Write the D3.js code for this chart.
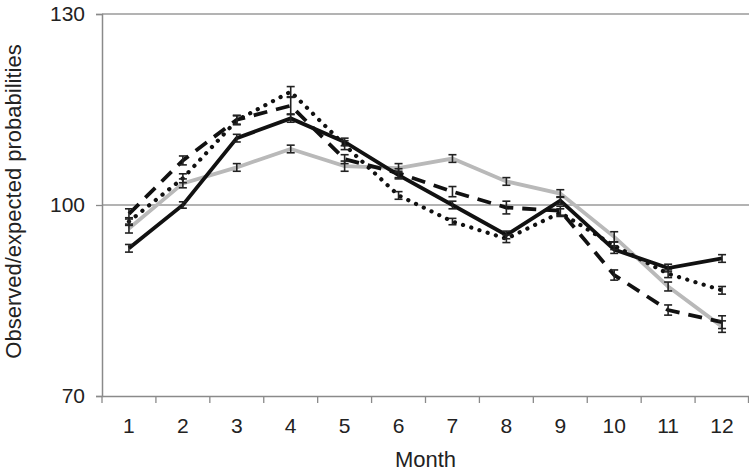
<!DOCTYPE html>
<html>
<head>
<meta charset="utf-8">
<script src="https://cdn.jsdelivr.net/npm/d3@7/dist/d3.min.js"></script>
<style>
  html, body { margin: 0; padding: 0; background: #fff; }
  svg { display: block; font-family: "Liberation Sans", Arial, sans-serif; }
</style>
</head>
<body>
<svg id="chart" width="749" height="473"></svg>
<script>
const months = ["1","2","3","4","5","6","7","8","9","10","11","12"];
const yTicks = [70, 100, 130];

const solidValues  = [93.2, 100.0, 110.5, 113.6, 109.9, 104.7, 100.0, 95.3, 100.7, 93.0, 90.1, 91.6];
const solidErr     = [0.6, 0.5, 0.6, 0.6, 0.6, 0.6, 0.6, 0.6, 0.6, 0.6, 0.6, 0.6];
const greyValues   = [96.3, 103.4, 105.9, 108.8, 106.1, 105.8, 107.3, 103.7, 101.8, 95.0, 87.2, 80.9];
const greyErr      = [0.7, 0.7, 0.6, 0.6, 0.8, 0.7, 0.6, 0.6, 0.6, 0.8, 0.7, 0.9];
const dashedValues = [98.6, 107.0, 113.4, 115.6, 107.2, 105.0, 102.1, 99.6, 99.1, 89.0, 83.5, 81.6];
const dashedErr    = [0.8, 0.7, 0.7, 1.3, 0.7, 0.7, 0.8, 1.0, 0.7, 0.8, 0.8, 1.0];
const dottedValues = [97.4, 104.2, 113.3, 117.8, 109.4, 101.5, 97.4, 94.7, 98.8, 93.6, 89.2, 86.6];
const dottedErr    = [0.6, 0.7, 0.7, 0.8, 0.7, 0.6, 0.5, 0.6, 0.6, 0.6, 0.6, 0.6];

const xTitle = "Month";
const yTitle = "Observed/expected probabilities";

const svg = d3.select("#chart");
const mLeft = 102, mRight = 749, mTop = 14, mBottom = 396;

const x = d3.scaleBand().domain(months).range([mLeft, mRight]);
const y = d3.scaleLinear().domain([70, 130]).range([mBottom, mTop]);
const cx = m => x(m) + x.bandwidth() / 2;

// gridlines
svg.append("g").selectAll("line").data(yTicks.filter(t => t !== 70)).join("line")
  .attr("x1", mLeft).attr("x2", mRight)
  .attr("y1", d => y(d)).attr("y2", d => y(d))
  .attr("stroke", "#9a9a9a").attr("stroke-width", 1.3);

// y axis
const yAxis = svg.append("g").attr("transform", `translate(${mLeft},0)`)
  .call(d3.axisLeft(y).tickValues(yTicks).tickSize(6).tickPadding(11).tickFormat(d3.format("d")));
yAxis.select(".domain").attr("stroke", "#8a8a8a").attr("stroke-width", 1.5);
yAxis.selectAll(".tick line").attr("stroke", "#8a8a8a").attr("stroke-width", 1.3);
yAxis.selectAll("text").attr("font-size", 21).attr("fill", "#222")
  .attr("font-family", "'Liberation Sans', Arial, sans-serif");

// x axis
const xAxis = svg.append("g").attr("transform", `translate(0,${mBottom})`)
  .call(d3.axisBottom(x).tickSize(0).tickPadding(22));
xAxis.select(".domain").attr("stroke", "#8a8a8a").attr("stroke-width", 1.5);
xAxis.selectAll("text").attr("font-size", 21).attr("fill", "#222")
  .attr("font-family", "'Liberation Sans', Arial, sans-serif");
// tick marks at band boundaries
const bounds = months.map(m => x(m)).concat([mRight - 0.5]);
svg.append("g").selectAll("line").data(bounds).join("line")
  .attr("x1", d => d).attr("x2", d => d)
  .attr("y1", mBottom).attr("y2", mBottom + 7)
  .attr("stroke", "#8a8a8a").attr("stroke-width", 1.3);

// titles
svg.append("text").attr("x", (mLeft + mRight) / 2).attr("y", 467)
  .attr("text-anchor", "middle").attr("font-size", 22).attr("fill", "#222").text(xTitle);
svg.append("text").attr("transform", `translate(20.5,201.5) rotate(-90)`)
  .attr("text-anchor", "middle").attr("font-size", 22).attr("fill", "#222").text(yTitle);

const series = [
  { values: greyValues, err: greyErr, stroke: "#b9b9b9", dash: null, cap: "butt" },
  { values: dottedValues, err: dottedErr, stroke: "#111", dash: "0.1,8.5", cap: "round" },
  { values: dashedValues, err: dashedErr, stroke: "#111", dash: "14,9", cap: "butt" },
  { values: solidValues, err: solidErr, stroke: "#111", dash: null, cap: "butt" }
];

const line = d3.line().x((d, i) => cx(months[i])).y(d => y(d));

series.forEach(s => {
  svg.append("path").datum(s.values)
    .attr("d", line)
    .attr("fill", "none")
    .attr("stroke", s.stroke)
    .attr("stroke-width", s.cap === "round" ? 4.2 : 3.8)
    .attr("stroke-linejoin", "miter")
    .attr("stroke-linecap", s.cap)
    .attr("stroke-dasharray", s.dash);
});

// error bars
series.forEach(s => {
  const g = svg.append("g").attr("stroke", "#222").attr("stroke-width", 1.6);
  s.values.forEach((v, i) => {
    const px = cx(months[i]);
    const lo = y(v - s.err[i]), hi = y(v + s.err[i]);
    g.append("line").attr("x1", px).attr("x2", px).attr("y1", lo).attr("y2", hi);
    g.append("line").attr("x1", px - 4).attr("x2", px + 4).attr("y1", lo).attr("y2", lo);
    g.append("line").attr("x1", px - 4).attr("x2", px + 4).attr("y1", hi).attr("y2", hi);
  });
});
</script>
</body>
</html>
